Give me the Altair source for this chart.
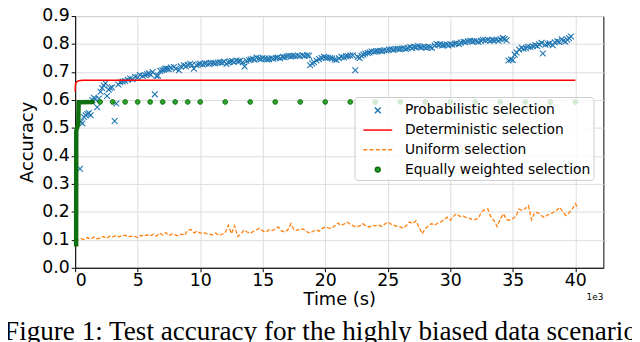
import altair as alt
import pandas as pd

SERIES = ["Probabilistic selection", "Deterministic selection",
          "Uniform selection", "Equally weighted selection"]

# ---- Probabilistic selection (time in 1e3 s, accuracy) ----
prob_t = [
    0.39, 0.47, 0.58, 0.71, 0.84, 0.97, 1.10, 1.24, 1.38, 1.50, 1.60, 1.76, 1.90,
    2.03, 2.16, 2.29, 2.42, 2.55, 2.68, 2.80, 2.95, 3.16, 3.29, 3.45, 3.61, 3.80,
    4.00, 4.20, 4.40, 4.60, 4.80, 5.00, 5.19, 5.40, 5.58, 5.75, 5.90, 6.05, 6.20, 6.37,
    6.50, 6.63, 6.80, 6.97, 7.10, 7.23, 7.37, 7.50, 7.65, 7.90, 8.05, 8.30, 8.45,
    8.70, 8.85, 9.00, 9.20, 9.35, 9.50, 9.70, 9.85, 10.00, 10.20, 10.35, 10.50, 10.70,
    10.85, 11.05, 11.20, 11.40, 11.60, 11.75, 11.90, 12.10, 12.25, 12.40, 12.55, 12.70,
    12.90, 13.05, 13.20, 13.40, 13.55, 13.70, 13.90, 14.05, 14.20, 14.35, 14.50, 14.70,
    14.85, 15.00, 15.20, 15.35, 15.50, 15.70, 15.85, 16.05, 16.20, 16.40, 16.60, 16.75,
    16.90, 17.10, 17.25, 17.40, 17.60, 17.80, 17.95, 18.20, 18.35, 18.55, 18.70, 18.80,
    18.95, 19.10, 19.30, 19.50, 19.70, 19.90, 20.05, 20.20, 20.40, 20.55, 20.75, 20.90,
    21.10, 21.30, 21.50, 21.65, 21.80, 22.00, 22.20, 22.40, 22.60, 22.75, 22.90, 23.05,
    23.20, 23.40, 23.55, 23.70, 23.90, 24.05, 24.20, 24.40, 24.55, 24.70, 24.90, 25.10,
    25.30, 25.45, 25.60, 25.80, 25.95, 26.10, 26.30, 26.45, 26.60, 26.80, 26.95, 27.10,
    27.25, 27.40, 27.55, 27.70, 27.90, 28.05, 28.20, 28.40, 28.55, 28.75, 28.90, 29.05,
    29.20, 29.35, 29.50, 29.70, 29.85, 30.00, 30.15, 30.35, 30.50, 30.70, 30.85, 31.05,
    31.20, 31.40, 31.60, 31.75, 31.90, 32.10, 32.25, 32.45, 32.60, 32.80, 33.00, 33.20,
    33.35, 33.50, 33.70, 33.85, 34.00, 34.20, 34.35, 34.50, 34.65, 34.85, 35.00, 35.15,
    35.30, 35.50, 35.70, 35.85, 36.05, 36.20, 36.40, 36.60, 36.80, 36.95, 37.10, 37.30,
    37.40, 37.60, 37.80, 37.95, 38.20, 38.35, 38.55, 38.70, 38.90, 39.05, 39.20, 39.35,
    39.50, 39.65]
prob_acc = [
    0.354, 0.522, 0.516, 0.539, 0.545, 0.550, 0.553, 0.545, 0.600, 0.608, 0.603, 0.574, 0.605,
    0.629, 0.643, 0.652, 0.660, 0.614, 0.637, 0.643, 0.645, 0.525, 0.587, 0.655, 0.663, 0.666,
    0.668, 0.672, 0.677, 0.674, 0.683, 0.681, 0.689, 0.686, 0.689, 0.692, 0.695, 0.690, 0.700, 0.620,
    0.686, 0.687, 0.704, 0.706, 0.709, 0.712, 0.712, 0.710, 0.716, 0.718, 0.712, 0.706, 0.720,
    0.724, 0.720, 0.726, 0.729, 0.725, 0.712, 0.724, 0.728, 0.729, 0.727, 0.731, 0.730, 0.729,
    0.733, 0.732, 0.730, 0.734, 0.735, 0.733, 0.737, 0.729, 0.734, 0.737, 0.739, 0.736,
    0.741, 0.738, 0.740, 0.735, 0.720, 0.740, 0.743, 0.745, 0.747, 0.744, 0.752, 0.748,
    0.746, 0.750, 0.748, 0.745, 0.746, 0.749, 0.747, 0.750, 0.752, 0.749, 0.754, 0.753,
    0.756, 0.758, 0.755, 0.757, 0.757, 0.759, 0.756, 0.760, 0.758, 0.760, 0.758, 0.724,
    0.730, 0.735, 0.741, 0.746, 0.750, 0.754, 0.752, 0.751, 0.750, 0.748, 0.745, 0.743,
    0.749, 0.754, 0.752, 0.756, 0.757, 0.759, 0.760, 0.706, 0.754, 0.750, 0.758, 0.762,
    0.766, 0.768, 0.770, 0.773, 0.772, 0.774, 0.775, 0.776, 0.774, 0.778, 0.777, 0.780,
    0.781, 0.779, 0.782, 0.783, 0.781, 0.784, 0.785, 0.782, 0.786, 0.789, 0.786, 0.790,
    0.788, 0.793, 0.790, 0.788, 0.790, 0.787, 0.789, 0.789, 0.786, 0.795, 0.800, 0.797,
    0.799, 0.795, 0.796, 0.798, 0.795, 0.799, 0.797, 0.801, 0.803, 0.800, 0.805, 0.808,
    0.806, 0.810, 0.812, 0.809, 0.811, 0.810, 0.807, 0.812, 0.815, 0.813, 0.814, 0.812,
    0.815, 0.813, 0.815, 0.812, 0.817, 0.821, 0.818, 0.813, 0.741, 0.745, 0.743, 0.762,
    0.770, 0.780, 0.787, 0.783, 0.785, 0.790, 0.789, 0.792, 0.796, 0.793, 0.799, 0.804,
    0.766, 0.797, 0.800, 0.803, 0.796, 0.806, 0.810, 0.807, 0.817, 0.812, 0.808, 0.815,
    0.821, 0.827]

# ---- Deterministic selection ----
det_t = [0.0, 0.02, 0.06, 0.15, 0.30, 0.60, 40.0]
det_acc = [0.630, 0.652, 0.661, 0.666, 0.669, 0.6705, 0.6705]

# ---- Uniform selection ----
uni_t = [
    0.00, 0.25, 0.50, 0.75, 1.00, 1.25, 1.50, 1.75, 2.00, 2.25, 2.50, 2.75,
    3.00, 3.25, 3.50, 3.75, 4.00, 4.25, 4.50, 4.75, 5.00, 5.25, 5.50, 5.75,
    6.00, 6.25, 6.50, 6.75, 7.00, 7.25, 7.50, 7.75, 8.00, 8.25, 8.50, 8.75,
    9.00, 9.25, 9.50, 9.75, 10.00, 10.25, 10.50, 10.75, 11.00, 11.25, 11.50, 11.75,
    12.00, 12.25, 12.50, 12.75, 13.00, 13.25, 13.50, 13.75, 14.00, 14.25, 14.50, 14.75,
    15.00, 15.25, 15.50, 15.75, 16.00, 16.25, 16.50, 16.75, 17.00, 17.25, 17.50, 17.75,
    18.00, 18.25, 18.50, 18.75, 19.00, 19.25, 19.50, 19.75, 20.00, 20.25, 20.50, 20.75,
    21.00, 21.25, 21.50, 21.75, 22.00, 22.25, 22.50, 22.75, 23.00, 23.25, 23.50, 23.75,
    24.00, 24.25, 24.50, 24.75, 25.00, 25.25, 25.50, 25.75, 26.00, 26.25, 26.50, 26.75,
    27.00, 27.25, 27.50, 27.75, 28.00, 28.25, 28.50, 28.75, 29.00, 29.25, 29.50, 29.75,
    30.00, 30.25, 30.50, 30.75, 31.00, 31.25, 31.50, 31.75, 32.00, 32.25, 32.50, 32.75,
    33.00, 33.25, 33.50, 33.75, 34.00, 34.25, 34.50, 34.75, 35.00, 35.25, 35.50, 35.75,
    36.00, 36.25, 36.50, 36.75, 37.00, 37.25, 37.50, 37.75, 38.00, 38.25, 38.50, 38.75,
    39.00, 39.25, 39.50, 39.75, 40.00, 40.25]
uni_acc = [
    0.103, 0.100, 0.104, 0.101, 0.108, 0.102, 0.110, 0.104,
    0.106, 0.112, 0.105, 0.113, 0.110, 0.116, 0.111, 0.114,
    0.117, 0.110, 0.113, 0.112, 0.108, 0.116, 0.112, 0.118,
    0.114, 0.120, 0.113, 0.124, 0.117, 0.126, 0.115, 0.121,
    0.118, 0.114, 0.120, 0.116, 0.134, 0.137, 0.125, 0.131,
    0.124, 0.126, 0.122, 0.120, 0.118, 0.124, 0.115, 0.120,
    0.125, 0.152, 0.122, 0.150, 0.112, 0.120, 0.135, 0.128,
    0.124, 0.130, 0.136, 0.141, 0.132, 0.128, 0.136, 0.133,
    0.138, 0.146, 0.132, 0.128, 0.135, 0.158, 0.136, 0.134,
    0.140, 0.138, 0.130, 0.124, 0.130, 0.136, 0.131, 0.140,
    0.146, 0.143, 0.141, 0.150, 0.160, 0.152, 0.156, 0.164,
    0.155, 0.150, 0.146, 0.150, 0.158, 0.150, 0.146, 0.152,
    0.150, 0.154, 0.148, 0.156, 0.164, 0.156, 0.152, 0.148,
    0.146, 0.141, 0.152, 0.164, 0.158, 0.168, 0.145, 0.122,
    0.140, 0.150, 0.158, 0.152, 0.160, 0.164, 0.172, 0.181,
    0.170, 0.184, 0.193, 0.184, 0.186, 0.180, 0.178, 0.172,
    0.172, 0.178, 0.200, 0.208, 0.210, 0.182, 0.168, 0.148,
    0.175, 0.193, 0.172, 0.170, 0.176, 0.184, 0.210, 0.205,
    0.212, 0.222, 0.172, 0.198, 0.197, 0.188, 0.180, 0.188,
    0.193, 0.198, 0.205, 0.216, 0.200, 0.187, 0.197, 0.210,
    0.229, 0.212]

# ---- Equally weighted selection ----
eq_t = [2.0, 3.0, 4.0, 5.0, 6.0, 7.0, 8.0, 9.0, 10.0, 12.0, 14.0, 16.0,
        18.0, 20.0, 22.0, 24.0, 26.0, 28.0, 30.0, 32.0, 34.0, 36.0, 38.0, 40.0]
eq_acc = [0.593, 0.593, 0.593, 0.593, 0.593, 0.593, 0.593, 0.593, 0.593, 0.593, 0.593, 0.593,
          0.593, 0.593, 0.593, 0.593, 0.593, 0.593, 0.593, 0.593, 0.593, 0.593, 0.593, 0.593]
eq_early_t = [0.08, 0.09, 0.25, 0.28, 1.55]
eq_early_acc = [0.076, 0.490, 0.515, 0.592, 0.593]

x_ticks = [0, 5, 10, 15, 20, 25, 30, 35, 40]
y_ticks = [0.0, 0.1, 0.2, 0.3, 0.4, 0.5, 0.6, 0.7, 0.8, 0.9]

caption = "Figure 1: Test accuracy for the highly biased data scenario"

# ---- build frames ----
prob_df = pd.DataFrame({"t": prob_t, "acc": prob_acc, "series": SERIES[0]})
det_df = pd.DataFrame({"t": det_t, "acc": det_acc})
uni_df = pd.DataFrame({"t": uni_t, "acc": uni_acc})
eq_df = pd.DataFrame({"t": eq_t, "acc": eq_acc, "series": SERIES[3]})
eq_early_df = pd.DataFrame({"t": eq_early_t, "acc": eq_early_acc})

X_PATH = "M-0.3,-0.3L0.3,0.3M-0.3,0.3L0.3,-0.3"
LINE_PATH = "M-1.5,0L1.5,0"
DASH_PATH = "M-1.5,0L-1.1,0M-0.85,0L-0.45,0M-0.2,0L0.2,0M0.45,0L0.85,0M1.1,0L1.5,0"
CIRC_PATH = "M-0.25,0A0.25,0.25,0,1,1,0.25,0A0.25,0.25,0,1,1,-0.25,0Z"

leg = alt.Legend(title=None, orient="none", legendX=283, legendY=82)
stroke_enc = alt.Stroke("series:N", scale=alt.Scale(domain=SERIES,
                        range=["#1f77b4", "#ff0000", "#ff7f0e", "#0b6b0b"]), legend=leg)
fill_enc = alt.Fill("series:N", scale=alt.Scale(domain=SERIES,
                    range=["transparent", "transparent", "transparent", "#2ca02c"]), legend=leg)
shape_enc = alt.Shape("series:N", scale=alt.Scale(domain=SERIES,
                      range=[X_PATH, LINE_PATH, DASH_PATH, CIRC_PATH]), legend=leg)

x_enc = alt.X("t:Q", scale=alt.Scale(domain=[0, 42.24], nice=False, zero=False),
              axis=alt.Axis(values=x_ticks, format="d", title="Time (s)", labelOverlap=False))
y_enc = alt.Y("acc:Q", scale=alt.Scale(domain=[0, 0.9], nice=False, zero=False),
              axis=alt.Axis(values=y_ticks, format=".1f", title="Accuracy", labelOverlap=False))

blue = alt.Chart(prob_df).mark_point(size=380, strokeWidth=1.1, opacity=1).encode(
    x=x_enc, y=y_enc, stroke=stroke_enc, fill=fill_enc, shape=shape_enc)

red = alt.Chart(det_df).mark_line(color="#ff0000", strokeWidth=1.5).encode(x=x_enc, y=y_enc)

orange = alt.Chart(uni_df).mark_line(color="#ff7f0e", strokeWidth=1.3,
                                     strokeDash=[4, 2]).encode(x=x_enc, y=y_enc)

green_band = alt.Chart(eq_early_df).mark_line(color="#0f6e0f", strokeWidth=4.5).encode(
    x=x_enc, y=y_enc)

green = alt.Chart(eq_df).mark_point(size=380, strokeWidth=0.9, opacity=1).encode(
    x=x_enc, y=y_enc, stroke=stroke_enc, fill=fill_enc, shape=shape_enc)

offset_txt = alt.Chart(pd.DataFrame({"txt": ["1e3"]})).mark_text(
    align="right", baseline="alphabetic", fontSize=9, font="DejaVu Sans", color="black"
).encode(x=alt.value(535), y=alt.value(288), text="txt:N")

cap_txt = alt.Chart(pd.DataFrame({"txt": [caption]})).mark_text(
    align="left", baseline="alphabetic", fontSize=27.5, font="Liberation Serif", color="black"
).encode(x=alt.value(-72), y=alt.value(328), text="txt:N")

chart = alt.layer(blue, red, orange, green_band, green, offset_txt, cap_txt).properties(
    width=535, height=255,
    autosize=alt.AutoSizeParams(type="none"),
    padding={"left": 68, "top": 6, "right": 29, "bottom": 73},
).configure_axis(
    labelFont="DejaVu Sans", labelFontSize=17.5, labelColor="black",
    titleFont="DejaVu Sans", titleFontSize=18, titleFontWeight="normal", titleColor="black",
    tickColor="black", domainColor="black", tickSize=4, labelPadding=2,
    gridColor="#dcdcdc", gridWidth=1,
).configure_axisX(titlePadding=2, labelPadding=0).configure_axisY(titlePadding=5).configure_view(
    stroke="black", strokeWidth=1
).configure_legend(
    labelFont="DejaVu Sans", labelFontSize=14, labelColor="black", labelLimit=400,
    symbolSize=380, symbolStrokeWidth=1.5, padding=3, symbolOffset=10, labelOffset=17,
    rowPadding=2, fillColor="rgba(255,255,255,0.8)", strokeColor="#cccccc", cornerRadius=3,
)

chart.save("out.html", embed_options={"renderer": "svg", "actions": False})
